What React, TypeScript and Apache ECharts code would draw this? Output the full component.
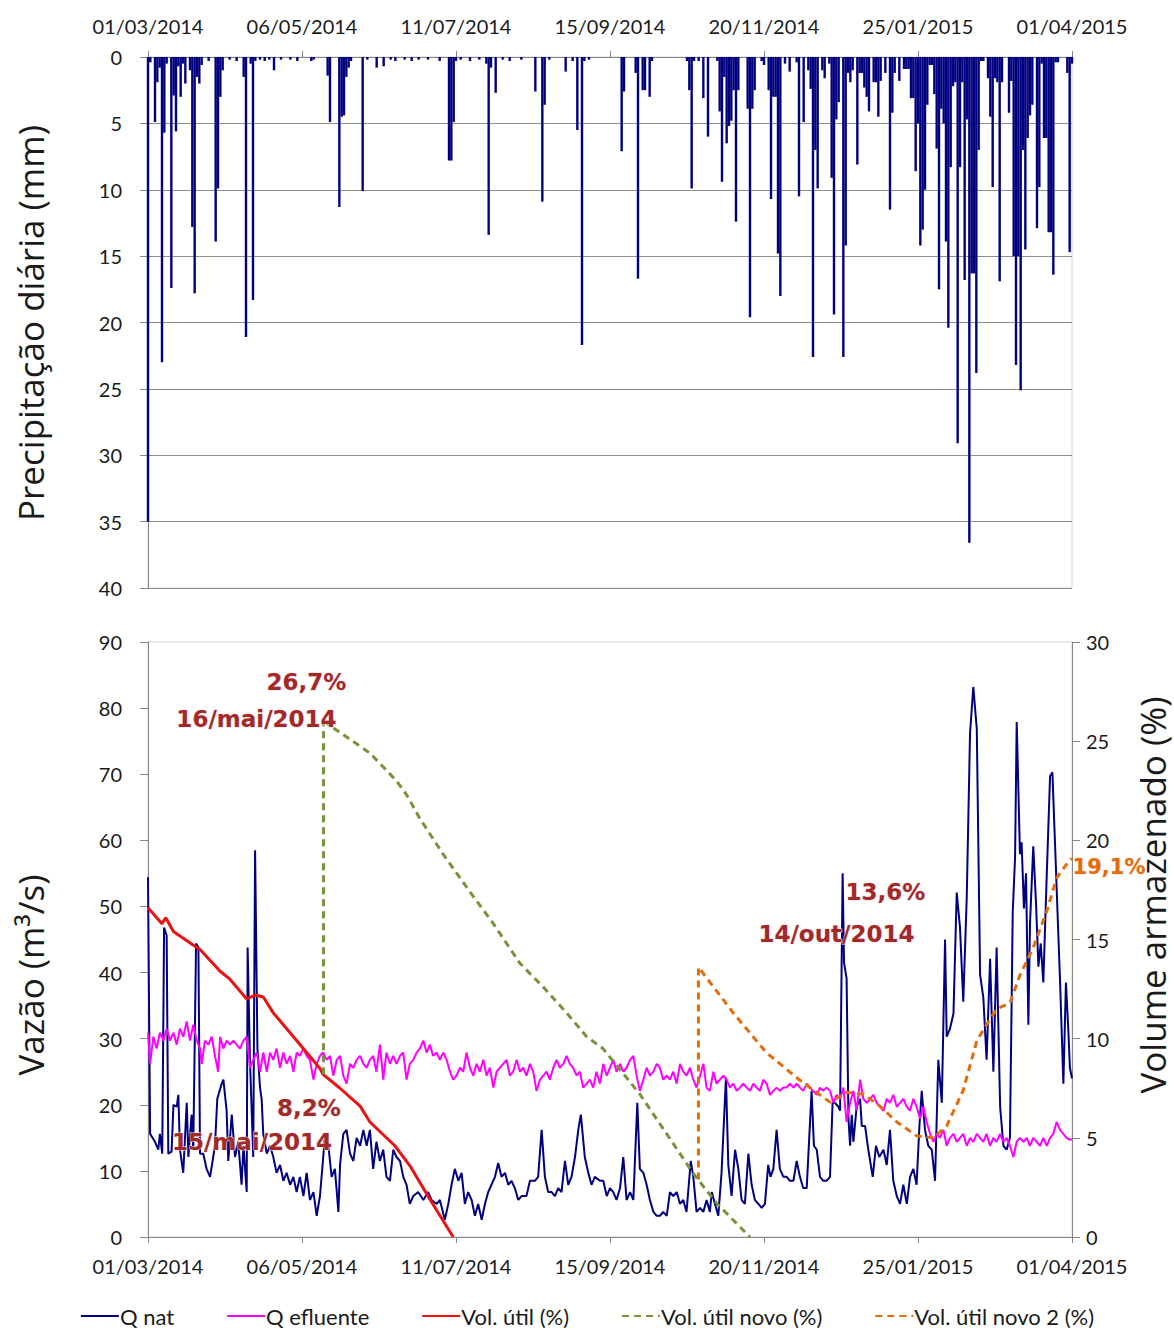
import React, { useEffect, useRef } from "react";
import * as echarts from "echarts";

const dateLabels = ["01/03/2014", "06/05/2014", "11/07/2014", "15/09/2014", "20/11/2014", "25/01/2015", "01/04/2015"];
const dayStep = 66;
const totalDays = 396;

// [day since 01/03/2014, mm]
const precip: [number, number][] = [
  [0,35],[1,0.4],[3,4.9],[4,1.9],[5,0.8],[6,23],[7,5.7],[8,0.5],[10,17.4],[11,2.9],[12,5.6],[13,0.7],[14,3.0],[15,0.5],[16,2.0],[18,1.0],[19,12.8],[20,17.8],[21,1.5],[22,2.0],[23,0.6],[26,0.3],[29,13.9],[30,9.9],[31,3.0],[32,1.0],[35,0.2],[38,0.3],[41,1.5],[42,21.1],[44,0.5],[45,18.3],[46,0.3],[48,0.2],[50,0.3],[52,0.2],[54,1.0],[57,0.2],[61,0.2],[64,0.3],[70,0.3],[71,0.2],[77,1.4],[78,4.9],[82,11.3],[83,4.5],[84,4.4],[85,1.5],[86,0.8],[87,0.3],[92,10.1],[94,0.2],[98,0.8],[101,0.7],[104,0.2],[106,0.3],[110,0.2],[113,0.3],[116,0.2],[120,0.2],[125,0.3],[129,7.8],[130,7.8],[131,4.9],[132,0.3],[134,0.2],[138,0.3],[142,0.2],[145,0.5],[146,13.4],[147,0.8],[149,2.7],[152,0.2],[155,0.3],[160,0.2],[166,2.6],[169,10.9],[170,3.6],[172,0.2],[179,1.1],[182,0.3],[184,5.5],[186,21.7],[187,0.3],[189,0.2],
  [203,7.1],[204,2.6],[209,1.2],[210,16.7],[212,2.5],[213,2.5],[215,3.0],[216,0.3],[231,0.3],[232,2.5],[233,9.9],[234,0.3],[236,0.3],[238,3.1],[240,6.0],[244,0.3],[245,4.1],[246,9.4],[247,1.5],[248,6.5],[249,5.2],[250,4.8],[251,2.5],[252,12.4],[253,2.5],[257,3.9],[258,19.6],[259,3.9],[260,2.5],[263,0.3],[264,0.6],[266,2.5],[267,10.7],[268,3.0],[269,3.0],[270,14.8],[271,18.0],[273,0.5],[275,1.1],[278,0.4],[279,10.5],[281,4.9],[283,1.0],[284,2.4],[285,22.6],[286,7.0],[287,9.9],[289,1.0],[290,1.6],[292,0.5],[293,9.1],[294,19.4],[295,4.7],[296,3.4],[298,22.6],[299,14.2],
  [300,1.2],[301,1.9],[302,1.0],[304,8.1],[305,1.2],[306,1.2],[307,2.3],[308,3.0],[309,4.1],[311,1.9],[312,1.9],[313,4.5],[314,1.8],[316,1.2],[318,11.5],[319,4.2],[320,1.2],[322,1.8],[324,0.9],[325,0.9],[326,0.9],[327,3.1],[328,3.1],[329,8.6],[330,5.0],[331,14.2],[332,13.0],[333,10.0],[334,3.6],[335,0.6],[336,0.6],[337,2.8],[338,6.9],[339,17.5],[340,3.9],[341,5.0],[342,13.9],[343,20.4],[344,8.3],[345,2.2],[346,1.9],[347,29.1],[348,8.3],[349,1.9],[350,16.8],[351,4.7],[352,36.6],[353,16.3],[354,16.3],[355,23.8],[356,7.0],[357,0.3],[358,0.3],[360,1.6],[361,4.5],[362,9.8],[363,1.6],[364,1.9],[365,16.9],[366,1.9],[369,4.2],[370,1.8],[371,15.0],[372,23.2],[373,15.0],[374,25.1],[375,7.0],[376,14.5],[377,6.1],[378,4.4],[379,3.6],[381,12.9],[382,9.8],[383,0.5],[384,6.1],[385,6.1],[386,13.2],[387,13.2],[388,16.4],[389,0.4],[390,0.4],[394,1.2],[395,14.7],[396,0.5]
];

// [day, m3/s]
const qNat: [number, number][] = [
  [0,54.4],[0.9,15.6],[3,14.4],[4.4,13.2],[5.1,15.6],[6.1,12.6],[6.9,46.8],[8,45.6],[8.7,12.6],[10.1,12.9],[10.9,20],[12.3,19.7],[13,21.5],[13.7,13.2],[15.1,9.7],[16.6,20.3],[17.3,12.1],[18.7,18.5],[19.4,13.2],[20.6,44.4],[21.6,43.8],[22.3,12.6],[23.7,12.6],[25.1,10.3],[26.6,9.1],[28.7,13.8],[29.7,20.9],[31.6,23.2],[32.3,23.8],[33.7,19.1],[34.4,11.5],[35.9,18.5],[37.3,12.1],[38.7,14.4],[40.1,7.9],[40.9,13.8],[42.3,6.8],[42.7,43.8],[43.7,26.8],[45.1,12.1],[45.9,58.5],[46.9,28.5],[48,22.6],[48.7,20.9],[49.4,15.6],[50.9,12.6],[52.3,13.8],[53.7,12.1],[55.1,9.7],[56.6,10.9],[58,8.5],[59.4,9.7],[60.9,7.9],[62.3,9.1],[63.7,6.8],[65.1,9.1],[66.6,6.2],[68,9.7],[69.4,5.6],[70.9,6.8],[72.3,3.2],[73.7,6.2],[75.1,12.1],[75.9,15.6],[77.3,13.8],[78.7,9.1],[80.1,10.3],[81.6,3.8],[82.3,10.9],[83.7,15.6],[85.1,16.2],[86.6,12.6],[88,11.5],[89.4,15],[90.9,13.8],[92.3,16.2],[93.7,13.8],[95.1,16.2],
  [96.5,10.3],[97.9,14.4],[99.4,11.5],[100.8,13.2],[102.2,9.1],[103.7,8.5],[105.1,13.2],[106.5,12.1],[108,11.5],[109.4,9.1],[110.8,7.9],[112.2,5],[113.7,6.2],[115.8,6.8],[118,5.6],[120.1,6.8],[121.5,5.6],[123.7,5],[125.1,5.6],[127.2,2.6],[128.7,5],[130.1,7.9],[131.5,10.3],[133,8.5],[134.4,9.7],[135.8,5],[137.2,6.8],[138.7,5.6],[140.1,3.2],[141.5,5],[143,2.6],[144.4,5],[145.8,6.8],[147.2,7.9],[148.7,9.1],[150.1,11.2],[151.5,9.1],[153,9.7],[154.4,7.9],[155.8,8.5],[157.2,7.4],[158.7,5.6],[160.1,6.2],[162.2,6.2],[163.7,8.5],[165.8,8.5],[167.2,9.1],[168.7,16.2],[170.1,9.1],[171.5,6.8],[173,6.8],[174.4,6.2],[175.8,7.4],[177.2,6.8],[178.7,11.5],[180.1,7.9],[181.5,9.1],[183,12.1],[184.4,16.2],[185.5,18.5],[187.2,12.1],[188.7,9.7],[190.1,7.9],[191.5,9.1],[193.7,8.5],
  [195.1,8.5],[196.6,6.2],[198,7.4],[199.4,6.8],[200.8,5.6],[202.3,7.4],[203.7,12.1],[205.1,5.6],[206.6,6.8],[208,5.6],[209.7,20.3],[210.8,10.3],[212.3,9.7],[213.7,7.9],[215.1,5.6],[216.6,3.8],[218,3.2],[219.4,3.2],[220.8,3.8],[222.3,3.2],[223.7,6.8],[225.1,6.2],[226.6,6.8],[228,5],[229.4,5.6],[230.8,3.8],[232.6,11.5],[233.7,9.1],[235.1,3.8],[236.6,4.4],[238,3.8],[239.4,5.6],[240.8,3.8],[241.6,6.8],[243,5],[244.4,3.2],[245.8,9.7],[247.7,24.1],[248.7,10.9],[250.1,6.2],[251.6,13.2],[253,10.3],[254.4,5.6],[255.8,5],[257.3,12.6],[258.7,7.9],[260.1,5.6],[261.6,5],[263,4.4],[264.4,5],[265.8,10.9],[266.8,9.1],[268,10.3],[269.4,16.2],[270.8,10.3],[272.3,9.1],[273.7,9.1],[275.1,8.5],[276.6,8.5],[278,11.5],[279.4,9.1],[280.8,7.4],[282.3,7.4],[284.4,22.1],[285.4,13.8],[286.6,13.2],[288,9.1],[289.4,8.5],[290.8,8.5],[292.3,9.1],[293.4,20.3],[294.4,20.3],[295.9,19.7],[296.6,19.1],
  [297.7,55],[298.3,41.5],[299.4,39.1],[300.2,17.9],[300.9,13.8],[301.6,18.5],[302.3,14.4],[303.7,19.7],[305.2,20.9],[305.9,16.8],[307.3,16.8],[308.7,13.2],[310.6,9.1],[312,13.8],[313.4,12.1],[315.2,13.2],[316.6,10.9],[318,16.2],[319.4,8.5],[320.9,6.2],[322.3,5],[323.7,7.9],[325.2,5],[326.6,9.1],[328,10.3],[329.4,7.9],[330.6,16.8],[331.6,22.1],[333,16.2],[334.4,13.8],[335.9,13.2],[337.3,8.5],[338.7,26.8],[340.2,20.3],[341.6,45],[342.3,30.3],[343.7,31.5],[345.2,33.8],[346.6,52.1],[348,46.8],[349.4,35.6],[350.9,51.5],[352.3,76.2],[353.7,83.2],[355.2,76.8],[356.6,39.7],[358,36.2],[359.4,26.8],[360.9,42.1],[362.3,25],[363.7,43.8],[365.2,19.7],[366.6,13.8],[368,13.2],[369.4,15],[370.6,49.1],[371.6,57.4],[372.3,77.9],[373.7,57.9],[374.4,59.7],[375.4,49.7],[376.3,55],[377.3,32.1],[378,47.4],[379.4,59.1],[380.6,50.3],[381.6,40.9],[382.6,44.4],[383.7,38.5],[385.2,55],[386.6,69.7],[387.6,70.3],[388.7,59.7],[390.9,38.5],[392.3,23.2],[393.4,38.5],[394.4,31.5],[395.1,25.6],[396,24]
];

// [day, m3/s]
const qEfl: [number, number][] = [
  [0,30.9],[0.9,26.2],[2.3,30.3],[3.7,28.5],[5.1,30.9],[6.6,29.7],[8,31.5],[9.4,29.7],[10.9,30.9],[12.3,29.1],[13.7,31.5],[15.1,30.3],[16.6,32.6],[18,29.7],[19.4,32.1],[20.9,29.7],[22.3,28.5],[23,26.2],[24.4,29.7],[25.9,29.1],[27.3,30.3],[28.7,27.4],[30.1,25],[30.9,30.3],[32.3,28.5],[33.7,29.7],[35.1,29.1],[36.6,29.7],[38,29.1],[39.4,28.5],[40.9,29.7],[42.3,30.3],[43.7,25.6],[45.1,26.8],[46.6,27.9],[48,25],[49.4,27.9],[50.9,25],[52.3,27.9],[53.7,26.8],[55.1,28.5],[56.6,25.6],[58,27.9],[59.4,26.2],[60.9,27.4],[62.3,25],[63.7,27.9],[65.1,27.4],[66.6,28.5],[68,27.4],[69.4,26.8],[70.9,23.8],[72.3,26.2],[73.7,27.4],[75.1,27.9],[76.6,26.8],[78,27.4],[79.4,24.4],[80.9,26.8],[82.3,27.4],[83.7,24.4],[85.1,23.2],[86.6,26.2],[88,25.6],[89.4,26.8],[90.9,27.4],[92.3,26.2],[93.7,25.6],[95.1,26.8],
  [96.5,27.4],[97.9,25],[99.4,29.1],[100.8,23.8],[102.2,27.9],[103.7,26.2],[105.1,27.4],[106.5,26.2],[108,27.4],[109.4,27.9],[110.8,23.8],[112.2,26.2],[113.7,26.8],[115.1,27.9],[116.5,28.5],[118,29.7],[119.4,27.9],[120.8,29.1],[122.2,27.4],[123.7,27.9],[125.1,26.8],[126.5,27.9],[128,26.8],[129.4,25],[130.8,23.8],[132.2,24.4],[133.7,25.6],[135.1,25],[136.5,27.9],[138,25.6],[139.4,24.4],[140.8,26.2],[142.2,25],[143.7,26.8],[145.1,24.4],[146.5,25.6],[148,22.6],[149.4,25],[150.8,25.6],[152.2,26.2],[153.7,26.8],[155.1,24.4],[156.5,25],[158,26.8],[159.4,25],[160.8,25.6],[162.2,24.4],[163.7,26.2],[165.1,25],[166.5,22.1],[168,23.8],[169.4,24.4],[170.8,25],[172.2,23.8],[173.7,25.6],[175.1,26.8],[176.5,25.6],[178,26.2],[179.4,27.4],[180.8,26.2],[182.2,25.6],[183.7,24.4],[185.1,25],[186.5,22.6],[188,23.2],[189.4,23.8],[190.8,22.6],[192.2,25],[193.7,23.2],
  [195.1,26.2],[196.6,24.4],[198,25.6],[199.4,26.8],[200.8,25],[202.3,26.2],[203.7,25],[205.1,25.6],[206.6,26.8],[208,27.4],[209.4,24.4],[210.8,22.1],[212.3,23.8],[213.7,25.6],[215.1,24.4],[216.6,25],[218,26.2],[219.4,25.6],[220.8,23.8],[222.3,24.4],[223.7,23.8],[225.1,25],[226.6,23.2],[228,26.2],[229.4,25],[230.8,24.4],[232.3,25.6],[233.7,23.8],[235.1,22.6],[236.6,24.4],[238,26.2],[239.4,22.6],[240.8,22.1],[242.3,25],[243.7,23.2],[245.1,23.8],[246.6,24.4],[248,23.8],[249.4,22.6],[250.8,23.2],[252.3,22.1],[253.7,22.6],[255.1,23.2],[256.6,22.6],[258,22.1],[259.4,23.2],[260.8,22.6],[262.3,22.1],[263.7,23.8],[265.1,23.2],[266.6,21.5],[268,22.1],[269.4,22.6],[270.8,22.1],[272.3,22.6],[273.7,22.6],[275.1,23.2],[276.6,22.6],[278,23.2],[279.4,22.6],[280.8,22.1],[282.3,23.2],[283.7,22.6],[285.1,22.1],[286.6,21.5],[288,22.6],[289.4,22.1],[290.8,22.6],[292.3,22.1],[293.7,20.3],[295.1,21.5],
  [296.6,20.9],[298,22.6],[299.4,17.4],[300.9,20.3],[302.3,22.1],[303.7,19.1],[305.2,23.8],[306.6,20.9],[308,20.3],[309.4,20.9],[310.9,21.5],[312.3,20.3],[313.7,19.7],[315.2,19.1],[316.6,20.9],[318,20.3],[319.4,21.5],[320.9,19.7],[322.3,20.3],[323.7,20.9],[325.2,19.7],[326.6,19.1],[328,20.9],[329.4,19.7],[330.9,17.9],[332.3,19.7],[333.7,17.4],[335.2,15.6],[336.6,14.4],[338,15.6],[339.4,15],[340.9,16.2],[342.3,13.8],[343.7,15],[345.2,15.6],[346.6,14.4],[348,15],[349.4,15.6],[350.9,13.8],[352.3,15],[353.7,14.4],[355.2,15.6],[356.6,15],[358,14.4],[359.4,15.6],[360.9,13.8],[362.3,15],[363.7,14.4],[365.2,15.6],[366.6,14.4],[368,15],[369.4,13.8],[370.9,12.1],[372.3,14.4],[373.7,15],[375.2,14.4],[376.6,15],[378,13.8],[379.4,15],[380.9,14.4],[382.3,13.8],[383.7,15],[385.2,13.8],[386.6,15],[388,15.6],[389.4,17.4],[390.9,16.2],[392.3,15.6],[393.7,15],[395.1,14.7],[396,14.8]
];

// [day, %]
const volUtil: [number, number][] = [
  [0,16.6],[6,15.8],[7.6,16.1],[10.9,15.4],[20.9,14.6],[22.3,14.5],[30.9,13.4],[35.1,13.0],[42.3,12.0],[45.9,12.2],[49.4,12.1],[53.7,11.3],[60.9,10.3],[68,9.3],[73.7,8.5],[75,8.2],[82.3,7.5],[90.9,6.6],[95.1,5.8],[105.8,4.6],[112.2,3.6],[120.8,1.9],[130.8,0]
];
const volNovo: [number, number][] = [
  [75.2,8.2],[75.2,26.2],[76.6,25.9],[95.1,24.4],[106.5,23.0],[110.8,22.3],[116.5,21.1],[126.5,19.3],[138,17.4],[148,15.8],[159.4,13.8],[169.4,12.6],[179.4,11.3],[188,10.1],[195,9.5],[210.8,7.2],[222.3,5.2],[233.7,3.2],[243.7,1.7],[258,0]
];
const volNovo2: [number, number][] = [
  [235.9,2.9],[235.9,13.6],[236.6,13.5],[250.8,11.3],[265,9.3],[279.4,7.9],[292.3,6.8],[299.4,7.3],[306.6,7.2],[313.7,6.6],[320.9,5.8],[329.4,5.1],[336.6,5.0],[342.3,5.6],[349.4,7.4],[355.2,9.9],[359.4,10.7],[363.7,11.5],[369.4,11.8],[373.7,13.2],[379.4,14.6],[385.1,16.4],[389.4,18.1],[393.7,18.8],[396,19.1]
];

const seriesNames = ["Q nat", "Q efluente", "Vol. útil (%)", "Vol. útil novo (%)", "Vol. útil novo 2 (%)"];

const tickFont = { fontFamily: "Lato", fontSize: 20, color: "#1a1a1a" };
const axisGray = "#868686";

function fmtDate(v: number) {
  const i = Math.round(v / dayStep);
  return dateLabels[i] ?? "";
}

export default function App() {
  const ref = useRef<HTMLDivElement>(null);
  useEffect(() => {
    if (!ref.current) return;
    const chart = echarts.init(ref.current, undefined, { renderer: "svg" });
    const xCommon = {
      type: "value" as const,
      min: 0,
      max: totalDays,
      interval: dayStep,
      axisLine: { show: true, lineStyle: { color: axisGray, width: 1 } },
      axisTick: { show: true, length: 6, lineStyle: { color: axisGray } },
      splitLine: { show: false },
    };
    const option: any = {
      animation: false,
      backgroundColor: "#ffffff",
      grid: [
        { left: 148, right: 102, top: 57, height: 531, show: true, borderColor: "#d4d4d4", borderWidth: 1 },
        { left: 148, right: 102, top: 642, height: 595, show: true, borderColor: "#d4d4d4", borderWidth: 1 },
      ],
      xAxis: [
        { ...xCommon, gridIndex: 0, position: "top", axisLabel: { ...tickFont, margin: 21, formatter: fmtDate } },
        { ...xCommon, gridIndex: 1, position: "bottom", axisLabel: { ...tickFont, margin: 19, formatter: fmtDate } },
      ],
      yAxis: [
        {
          type: "value", gridIndex: 0, inverse: true, min: 0, max: 40, interval: 5,
          axisLine: { show: true, lineStyle: { color: axisGray } },
          axisTick: { show: true, length: 8, lineStyle: { color: axisGray } },
          axisLabel: { ...tickFont, margin: 26 },
          splitLine: { show: true, lineStyle: { color: "#8e8e8e", width: 1 } },
        },
        {
          type: "value", gridIndex: 1, min: 0, max: 90, interval: 10,
          axisLine: { show: true, lineStyle: { color: axisGray } },
          axisTick: { show: true, length: 8, lineStyle: { color: axisGray } },
          axisLabel: { ...tickFont, margin: 26 },
          splitLine: { show: false },
        },
        {
          type: "value", gridIndex: 1, position: "right", min: 0, max: 30, interval: 5,
          axisLine: { show: true, lineStyle: { color: axisGray } },
          axisTick: { show: true, length: 8, lineStyle: { color: axisGray } },
          axisLabel: { ...tickFont, margin: 14 },
          splitLine: { show: false },
        },
      ],
      legend: {
        data: seriesNames,
        top: 1305,
        left: "center",
        padding: 0,
        itemWidth: 38,
        itemHeight: 14,
        itemGap: 52,
        itemStyle: { opacity: 0 },
        textStyle: { fontFamily: "Lato", fontSize: 22, color: "#1a1a1a", padding: [0, 0, 0, -4] },
      },
      series: [
        {
          type: "bar", name: "Precipitação", xAxisIndex: 0, yAxisIndex: 0,
          data: precip, barWidth: 2.4, itemStyle: { color: "#00007f" },
        },
        {
          type: "line", name: seriesNames[0], xAxisIndex: 1, yAxisIndex: 1, data: qNat,
          symbol: "none", lineStyle: { color: "#000080", width: 2 }, itemStyle: { color: "#000080" },
        },
        {
          type: "line", name: seriesNames[1], xAxisIndex: 1, yAxisIndex: 1, data: qEfl,
          symbol: "none", lineStyle: { color: "#ff00ff", width: 2 }, itemStyle: { color: "#ff00ff" },
        },
        {
          type: "line", name: seriesNames[2], xAxisIndex: 1, yAxisIndex: 2, data: volUtil,
          symbol: "none", lineStyle: { color: "#ee1111", width: 3 }, itemStyle: { color: "#ee1111" },
        },
        {
          type: "line", name: seriesNames[3], xAxisIndex: 1, yAxisIndex: 2, data: volNovo,
          symbol: "none", lineStyle: { color: "#77933c", width: 3, type: [7, 5] }, itemStyle: { color: "#77933c" },
        },
        {
          type: "line", name: seriesNames[4], xAxisIndex: 1, yAxisIndex: 2, data: volNovo2,
          symbol: "none", lineStyle: { color: "#e46c0a", width: 3, type: [7, 5] }, itemStyle: { color: "#e46c0a" },
        },
      ],
    };
    chart.setOption(option);

    const toPx = (d: number, v: number) =>
      chart.convertToPixel({ xAxisIndex: 1, yAxisIndex: 2 } as any, [d, v]) as number[];
    const gTop = toPx(volNovo[1][0], volNovo[1][1]);
    const rPt = toPx(75, 8.2);
    const oTop = toPx(volNovo2[1][0], volNovo2[1][1]);
    const oEnd = toPx(volNovo2[volNovo2.length - 1][0], volNovo2[volNovo2.length - 1][1]);

    const annStyle = {
      font: "bold 23px 'DejaVu Sans'",
      fill: "#a3282a",
      stroke: "#f5e0e0",
      lineWidth: 1,
      textAlign: "center",
      textVerticalAlign: "middle",
      shadowBlur: 3,
      shadowColor: "rgba(0,0,0,0.45)",
      shadowOffsetX: 2,
      shadowOffsetY: 2,
    };
    const ann = (text: string, p: number[], dx: number, dy: number, extra: any = {}) => ({
      type: "text", x: p[0] + dx, y: p[1] + dy, z: 100,
      style: { ...annStyle, text, ...extra },
    });
    const titleStyle = { font: "35px 'Open Sans'", fill: "#1a1a1a", textAlign: "center", textVerticalAlign: "middle" };

    chart.setOption({
      graphic: [
        ann("26,7%", gTop, -17, -35),
        ann("16/mai/2014", gTop, -67, 2),
        ann("8,2%", rPt, -14, 34),
        ann("15/mai/2014", rPt, -71, 68),
        ann("13,6%", oTop, 187, -75),
        ann("14/out/2014", oTop, 138, -33),
        ann("19,1%", oEnd, 37, 9, { fill: "#e46c0a", stroke: "#fbe5d6", font: "bold 21px 'DejaVu Sans'" }),
        { type: "text", x: 30, y: 323, rotation: Math.PI / 2, style: { ...titleStyle, text: "Precipitação diária (mm)" } },
        { type: "text", x: 30, y: 975, rotation: Math.PI / 2, style: { ...titleStyle, text: "Vazão (m³/s)" } },
        { type: "text", x: 1152, y: 895, rotation: Math.PI / 2, style: { ...titleStyle, text: "Volume armazenado (%)" } },
      ],
    });

    return () => chart.dispose();
  }, []);

  return <div ref={ref} style={{ position: "fixed", left: 0, top: 0, width: 1174, height: 1330 }} />;
}
